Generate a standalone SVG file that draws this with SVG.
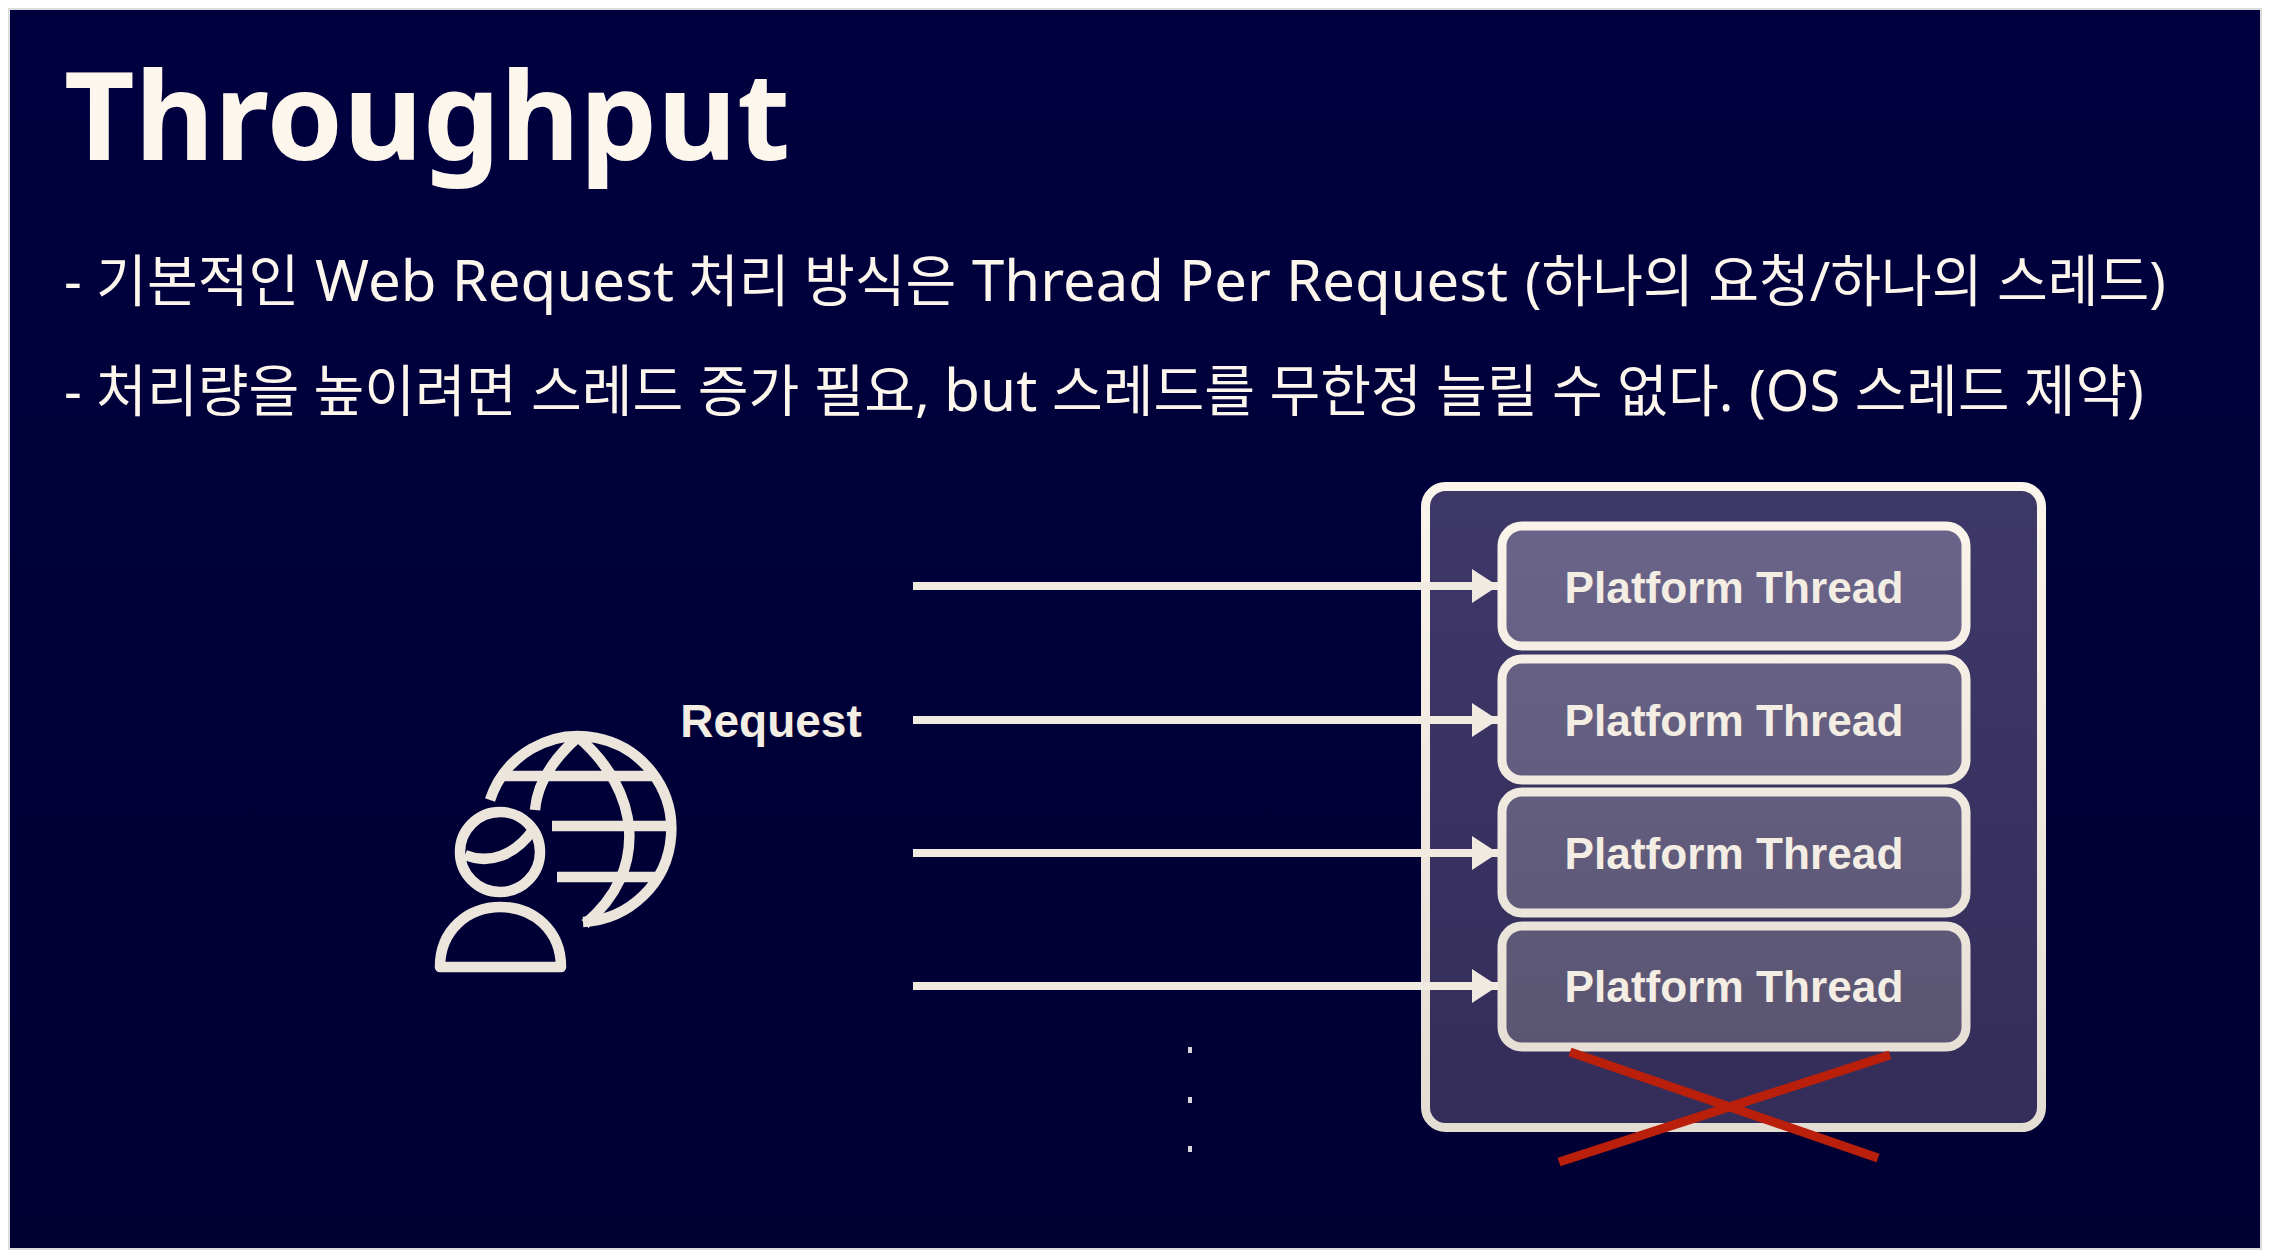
<svg xmlns="http://www.w3.org/2000/svg" width="2270" height="1258" viewBox="0 0 2270 1258">
<defs>
<linearGradient id="bg" x1="0" y1="0" x2="0" y2="1"><stop offset="0" stop-color="#00003f"/><stop offset="1" stop-color="#000033"/></linearGradient>
<linearGradient id="outer" x1="0" y1="0" x2="0" y2="1"><stop offset="0" stop-color="#3e3869"/><stop offset="1" stop-color="#342d59"/></linearGradient>
<linearGradient id="inner" gradientUnits="userSpaceOnUse" x1="0" y1="520" x2="0" y2="1050"><stop offset="0" stop-color="#6a648a"/><stop offset="1" stop-color="#5b5573"/></linearGradient>
<linearGradient id="ink" gradientUnits="userSpaceOnUse" x1="0" y1="480" x2="0" y2="1135"><stop offset="0" stop-color="#fbf5ec"/><stop offset="1" stop-color="#e2dcd2"/></linearGradient>
<marker id="head" markerUnits="userSpaceOnUse" markerWidth="27" markerHeight="34" refX="26" refY="17" orient="auto"><path d="M0 0L26 17L0 34Z" fill="#f0eae0"/></marker>
</defs>
<style>
.title{font-family:"Noto Sans","Noto Sans CJK KR",sans-serif;font-weight:700;font-size:122.500px;fill:#fdf6ec}
.body{font-family:"Noto Sans","Noto Sans CJK KR",sans-serif;font-size:55.200px;fill:#fdf6ec}
.lat{font-size:57px}
.lbl{font-family:"Liberation Sans",Arial,sans-serif;font-weight:700;font-size:44.200px;fill:#f3ede3;text-anchor:middle}
.thread{fill:url(#inner);stroke:url(#ink);stroke-width:9}
.ico{fill:none;stroke:#ebe5db;stroke-width:10.500;stroke-linecap:butt;stroke-linejoin:round}
.arrow{fill:none;stroke:#f0eae0;stroke-width:8;marker-end:url(#head)}
.x{stroke:#b91f0a;stroke-width:9;fill:none}
.dot{fill:#d8d4dc}
</style>
<rect width="2270" height="1258" fill="#ffffff"/>
<rect x="8" y="8" width="2254" height="1242" fill="#dcdcdc"/>
<rect x="10" y="10" width="2250" height="1238" fill="url(#bg)"/>
<g id="title"><text class="title" x="64" y="160">Throughput</text></g>
<g id="bullets">
<text class="body" y="301"><tspan x="64">- 기본적인</tspan> <tspan class="lat" x="315" textLength="359" lengthAdjust="spacingAndGlyphs">Web Request</tspan> <tspan x="688">처리 방식은</tspan> <tspan class="lat" x="972" textLength="536" lengthAdjust="spacingAndGlyphs">Thread Per Request</tspan> <tspan x="1525">(하나의 요청/하나의 스레드)</tspan></text>
<text class="body" y="411"><tspan x="64">- 처리량을 높이려면 스레드 증가 필요,</tspan> <tspan class="lat" style="font-size:58.500px" x="944">but</tspan> <tspan x="1052">스레드를 무한정 늘릴 수 없다.</tspan> <tspan style="font-size:56px" x="1749">(OS 스레드 제약)</tspan></text>
</g>
<g id="os-box"><rect x="1425.500" y="486.500" width="616" height="641" rx="20" fill="url(#outer)" stroke="url(#ink)" stroke-width="9"/></g>
<g id="thread-1"><rect class="thread" x="1502" y="526" width="464" height="120" rx="20"/><text class="lbl" x="1734" y="603">Platform Thread</text></g>
<g id="thread-2"><rect class="thread" x="1502" y="659" width="464" height="121" rx="20"/><text class="lbl" x="1734" y="736">Platform Thread</text></g>
<g id="thread-3"><rect class="thread" x="1502" y="792" width="464" height="121" rx="20"/><text class="lbl" x="1734" y="869">Platform Thread</text></g>
<g id="thread-4"><rect class="thread" x="1502" y="926" width="464" height="121" rx="20"/><text class="lbl" x="1734" y="1002">Platform Thread</text></g>
<g id="user-globe">
<path class="ico" d="M490 800A93 93 0 1 1 583 922"/>
<path class="ico" d="M578 737C552 760 537 785 535 810"/>
<path class="ico" d="M578 737C640 790 650 870 585 924"/>
<path class="ico" d="M500 776H657M552 826H672M557 877H656"/>
<circle class="ico" cx="500" cy="852" r="40"/>
<path class="ico" d="M465 855C490 865 515 855 533 830"/>
<path class="ico" d="M440 967C440 930 468 907 500.500 907C533 907 561 930 561 967Z"/>
</g>
<g id="request-label"><text class="lbl" x="771" y="737" style="font-size:46px">Request</text></g>
<g id="connectors">
<path class="arrow" d="M913 586H1498"/>
<path class="arrow" d="M913 720H1498"/>
<path class="arrow" d="M913 853H1498"/>
<path class="arrow" d="M913 986H1498"/>
</g>
<g id="ellipsis">
<rect class="dot" x="1188" y="1047" width="4" height="6"/>
<rect class="dot" x="1188" y="1097" width="4" height="6"/>
<rect class="dot" x="1188" y="1146" width="4" height="6"/>
</g>
<g id="cross">
<path class="x" d="M1570 1052L1878 1158"/>
<path class="x" d="M1890 1055L1559 1162"/>
</g>
</svg>
